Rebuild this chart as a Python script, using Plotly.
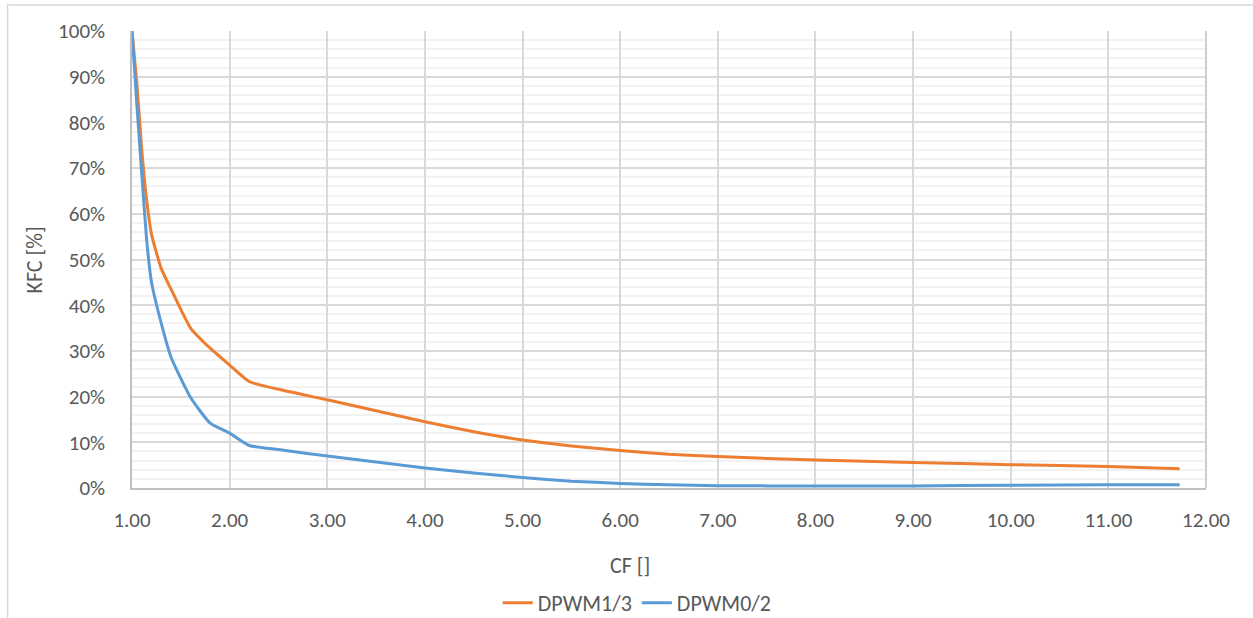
import plotly.graph_objects as go

# ---- data ----
cf = [1.00, 1.05, 1.10, 1.15, 1.20, 1.30, 1.40, 1.60, 1.80, 2.00, 2.20,
      2.50, 3.00, 4.00, 4.50, 5.00, 5.50, 6.00, 6.50, 7.00, 8.00, 9.00,
      10.00, 11.00, 11.73]
dpwm13 = [100, 88.5, 74.0, 63.0, 55.5, 48.0, 43.5, 35.0, 30.6, 26.9, 23.3,
          21.6, 19.3, 14.5, 12.3, 10.5, 9.2, 8.2, 7.4, 6.9, 6.1, 5.6,
          5.1, 4.7, 4.2]
dpwm02 = [100, 83.8, 68.8, 54.3, 45.0, 36.0, 28.6, 19.8, 14.2, 12.0, 9.3,
          8.4, 7.0, 4.4, 3.3, 2.3, 1.5, 1.0, 0.7, 0.5, 0.45, 0.45,
          0.6, 0.7, 0.7]
series_names = ["DPWM1/3", "DPWM0/2"]
x_ticks = [1, 2, 3, 4, 5, 6, 7, 8, 9, 10, 11, 12]
x_tick_labels = ["%.2f" % v for v in x_ticks]
y_ticks = [0, 10, 20, 30, 40, 50, 60, 70, 80, 90, 100]
y_tick_labels = ["%d%%" % v for v in y_ticks]

W, H = 1253, 618
L, R, T, B = 131.5, 1206, 31, 488

FONT = "Carlito, Calibri, Lato, sans-serif"
TXT = "#595959"

def px_x(p):
    return (p - L) / (R - L)

def px_y(p):
    return (B - p) / (B - T)

fig = go.Figure()
fig.add_trace(go.Scatter(x=cf, y=dpwm13, name=series_names[0], mode="lines",
                         line=dict(color="#ED7D31", width=3, shape="spline", smoothing=0.5)))
fig.add_trace(go.Scatter(x=cf, y=dpwm02, name=series_names[1], mode="lines",
                         line=dict(color="#5B9BD5", width=3, shape="spline", smoothing=0.5)))

fig.update_layout(
    width=W, height=H,
    margin=dict(l=L, r=W - R, t=T, b=H - B, autoexpand=False),
    paper_bgcolor="white", plot_bgcolor="white",
    font=dict(family=FONT, color=TXT, size=21),
    showlegend=True,
    legend=dict(orientation="h", x=px_x(637), xanchor="center",
                y=px_y(603), yanchor="middle",
                font=dict(size=22, color=TXT),
                bgcolor="rgba(0,0,0,0)"),
    xaxis=dict(range=[1, 12], tickvals=x_ticks, ticktext=x_tick_labels,
               tickfont=dict(size=21),
               showgrid=True, gridcolor="#d9d9d9", gridwidth=1.5,
               showline=True, linecolor="#bfbfbf", linewidth=1.5,
               ticks="outside", ticklen=12, tickcolor="rgba(0,0,0,0)",
               zeroline=False, fixedrange=True),
    yaxis=dict(range=[0, 100], tickvals=y_ticks, ticktext=y_tick_labels,
               tickfont=dict(size=21),
               showgrid=True, gridcolor="#d9d9d9", gridwidth=1.5,
               minor=dict(dtick=2, showgrid=True, gridcolor="#f2f2f2", gridwidth=1.5),
               showline=True, linecolor="#bfbfbf", linewidth=1.5,
               ticks="outside", ticklen=21, tickcolor="rgba(0,0,0,0)",
               zeroline=False, fixedrange=True),
)

# right edge of plot area
fig.add_shape(type="line", xref="paper", yref="paper", x0=1, x1=1, y0=0, y1=1,
              line=dict(color="#cfcfcf", width=2))

# chart frame (left & top visible)
fig.add_shape(type="rect", xref="paper", yref="paper",
              x0=px_x(7), x1=px_x(1260), y0=px_y(625), y1=px_y(5),
              line=dict(color="#d9d9d9", width=1.5), layer="below")

# axis titles
fig.add_annotation(text="CF []", xref="paper", yref="paper",
                   x=px_x(630), y=px_y(565), showarrow=False,
                   font=dict(size=22, color=TXT), xanchor="center", yanchor="middle")
fig.add_annotation(text="KFC [%]", xref="paper", yref="paper",
                   x=px_x(33), y=px_y(260), showarrow=False, textangle=-90,
                   font=dict(size=22, color=TXT), xanchor="center", yanchor="middle")

fig.write_html("out.html", config={"displayModeBar": False},
               post_script="document.body.style.margin='0';document.body.style.overflow='hidden';")
